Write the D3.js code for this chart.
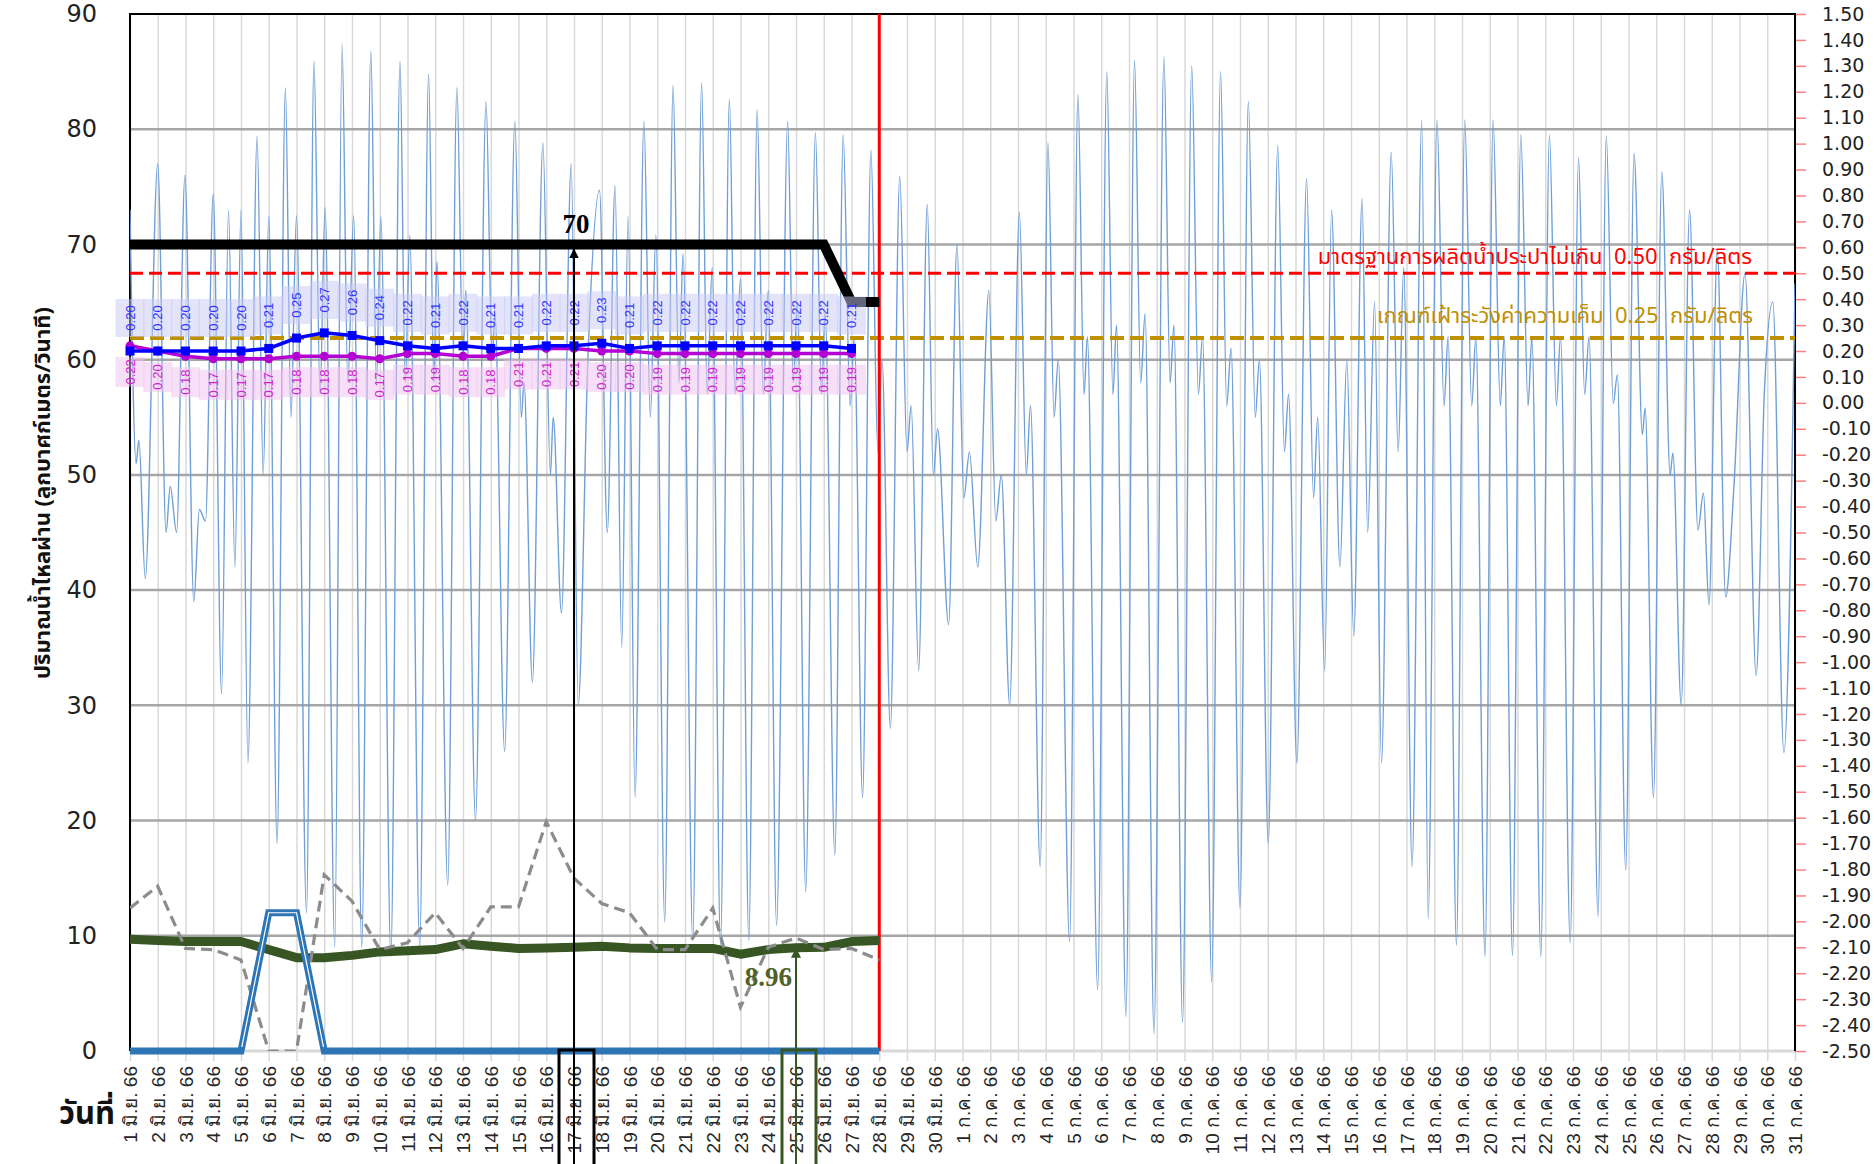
<!DOCTYPE html>
<html>
<head>
<meta charset="utf-8">
<script src="https://cdn.jsdelivr.net/npm/d3@7/dist/d3.min.js"></script>
<style>
body { margin: 0; background: #fff; }
svg { display: block; font-family: 'Noto Sans Thai', Tahoma, 'DejaVu Sans', sans-serif; }
</style>
</head>
<body>
<svg id="chart" width="1874" height="1164"></svg>
<script>
const dayLabels = [
	'1 มิ.ย. 66','2 มิ.ย. 66','3 มิ.ย. 66','4 มิ.ย. 66','5 มิ.ย. 66','6 มิ.ย. 66','7 มิ.ย. 66','8 มิ.ย. 66','9 มิ.ย. 66','10 มิ.ย. 66',
	'11 มิ.ย. 66','12 มิ.ย. 66','13 มิ.ย. 66','14 มิ.ย. 66','15 มิ.ย. 66','16 มิ.ย. 66','17 มิ.ย. 66','18 มิ.ย. 66','19 มิ.ย. 66','20 มิ.ย. 66',
	'21 มิ.ย. 66','22 มิ.ย. 66','23 มิ.ย. 66','24 มิ.ย. 66','25 มิ.ย. 66','26 มิ.ย. 66','27 มิ.ย. 66','28 มิ.ย. 66','29 มิ.ย. 66','30 มิ.ย. 66',
	'1 ก.ค. 66','2 ก.ค. 66','3 ก.ค. 66','4 ก.ค. 66','5 ก.ค. 66','6 ก.ค. 66','7 ก.ค. 66','8 ก.ค. 66','9 ก.ค. 66','10 ก.ค. 66',
	'11 ก.ค. 66','12 ก.ค. 66','13 ก.ค. 66','14 ก.ค. 66','15 ก.ค. 66','16 ก.ค. 66','17 ก.ค. 66','18 ก.ค. 66','19 ก.ค. 66','20 ก.ค. 66',
	'21 ก.ค. 66','22 ก.ค. 66','23 ก.ค. 66','24 ก.ค. 66','25 ก.ค. 66','26 ก.ค. 66','27 ก.ค. 66','28 ก.ค. 66','29 ก.ค. 66','30 ก.ค. 66',
	'31 ก.ค. 66'
]

// left axis series (ลบ.ม./วินาที), one value per day from 1 มิ.ย.
const limitFlow = [70,70,70,70,70,70,70,70,70,70,70,70,70,70,70,70,70,70,70,70,70,70,70,70,70,70,65,65]
const greenFlow = [9.7,9.6,9.5,9.5,9.5,8.8,8.1,8.1,8.3,8.6,8.7,8.8,9.3,9.1,8.9,8.95,9.0,9.1,8.95,8.9,8.9,8.9,8.4,8.8,8.96,9.0,9.5,9.6]
const greyFlow = [12.4,14.3,8.9,8.8,7.9,0,0,15.3,13.0,8.8,9.4,12.0,8.9,12.5,12.5,19.9,15.0,12.8,12.0,8.8,8.8,12.4,3.8,9.0,9.8,8.8,8.9,7.9]
const pumpFlow = [0,0,0,0,0,12,12,0,0,0,0,0,0,0,0,0,0,0,0,0,0,0,0,0,0,0,0,0]

// right axis series (กรัม/ลิตร)
const salinityTop = [0.20,0.20,0.20,0.20,0.20,0.21,0.25,0.27,0.26,0.24,0.22,0.21,0.22,0.21,0.21,0.22,0.22,0.23,0.21,0.22,0.22,0.22,0.22,0.22,0.22,0.22,0.21]
const salinityBottom = [0.22,0.20,0.18,0.17,0.17,0.17,0.18,0.18,0.18,0.17,0.19,0.19,0.18,0.18,0.21,0.21,0.21,0.20,0.20,0.19,0.19,0.19,0.19,0.19,0.19,0.19,0.19]

// tidal flow: turning points (day from 1 มิ.ย., value)
const waveDay = [
	0.0,0.22,0.32,0.55,1.0,1.3,1.45,1.68,1.98,2.3,2.5,2.72,3.0,3.3,3.55,3.78,4.0,4.25,4.58,4.8,5.0,5.3,5.6,5.8,6.0,6.36,6.63,6.85,7.03,7.38,
	7.64,7.85,8.06,8.35,8.68,8.88,9.04,9.4,9.73,9.92,10.08,10.44,10.76,10.95,11.06,11.45,11.78,12.0,12.1,12.45,12.83,13.05,13.15,13.5,13.87,14.1,14.2,14.5,14.88,15.15,
	15.25,15.55,15.9,16.15,16.5,16.92,17.2,17.48,17.72,17.95,18.2,18.52,18.75,18.95,19.27,19.57,19.78,19.93,20.28,20.6,20.8,20.98,21.28,21.6,21.8,22.0,22.3,22.6,22.82,23.0,
	23.3,23.7,23.9,24.05,24.35,24.7,24.92,25.05,25.4,25.7,25.95,26.1,26.4,26.7,26.95,27.1,27.4,27.74,28.0,28.15,28.42,28.73,28.95,29.1,29.5,29.8,30.05,30.25,30.55,30.95,
	31.2,31.4,31.7,32.05,32.3,32.45,32.8,33.08,33.3,33.45,33.86,34.16,34.38,34.5,34.87,35.2,35.42,35.55,35.89,36.2,36.42,36.58,36.9,37.26,37.48,37.62,37.93,38.26,38.5,38.65,
	38.98,39.3,39.52,39.68,40.0,40.3,40.55,40.7,41.02,41.36,41.6,41.75,42.05,42.4,42.65,42.8,43.05,43.3,43.6,43.85,44.1,44.4,44.6,44.85,45.1,45.45,45.7,45.9,46.2,46.55,
	46.78,47.1,47.35,47.5,47.8,48.1,48.35,48.5,48.83,49.12,49.38,49.52,49.82,50.12,50.38,50.52,50.84,51.15,51.4,51.55,51.9,52.2,52.42,52.58,52.9,53.2,53.45,53.6,53.9,54.2,
	54.5,54.6,54.9,55.2,55.5,55.6,55.9,56.2,56.5,56.7,56.9,57.2,57.5,57.8,58.2,58.6,58.9,59.2,59.6,60.0
]
const waveFlow = [
	73,51,53,41,77,45,49,45,76,39,47,46,74.4,31,73,42,73,25,79.4,50,72.4,18,83.6,55,72.5,12,85.9,57,73.2,9,
	87.4,58,72.5,9,86.8,58,72.4,8.2,85.9,58,70.8,9,84.8,58,68.5,14.4,83.6,60,66,20,82.4,60,64,26,80.7,55,58,32,78.8,50,
	55,38,77,30,60,74.7,45,75.1,35,72.5,22,80.7,55,70.8,11.2,83.8,58,69.2,9.6,84,57,68,9.2,82.6,57,67,9.6,81.7,57,66,
	10.9,80.7,58,65,13.8,79.7,57,64,17,79.5,56,62,22,78.2,52,60,28,75.9,52,56,33,73.5,50,54,37,70,48,52,42,66,
	46,50,30,72.8,50,56,16,78.8,55,60,9.5,83,57,62,5.3,85,57,63,3.0,86,58,64,1.5,86.3,58,63,2.5,85.5,57,62,
	6,85,56,61,12.4,82.4,55,60,18,78.6,52,57,25,75.7,48,55,33,73,42,60,36,74,45,65,25,78,52,68,16,80.8,
	11.5,80.8,56,62,9.2,80.8,56,62,8.2,80.8,56,62,8.3,79.5,56,62,8.2,79.5,56,62,9.4,77.5,57,62,11.7,79.4,56.2,58.7,15.7,77.9,
	53.5,55.8,22,76.3,50,51.9,30,73,45.2,48.4,38.7,69.5,39.4,49,67.5,32.6,57.4,65,25.9,66.6
]

const margin = { left: 130, right: 1795, top: 14, bottom: 1051 }
const svg = d3.select('#chart')

const x = d3.scalePoint().domain(d3.range(dayLabels.length)).range([margin.left, margin.right])
const xDay = d3.scaleLinear().domain([0, dayLabels.length - 1]).range([margin.left, margin.right])
const yLeft = d3.scaleLinear().domain([0, 90]).range([margin.bottom, margin.top])
const yRight = d3.scaleLinear().domain([-2.5, 1.5]).range([margin.bottom, margin.top])

const defs = svg.append('defs')
defs.append('clipPath').attr('id', 'plot')
	.append('rect')
	.attr('x', margin.left).attr('y', margin.top)
	.attr('width', margin.right - margin.left).attr('height', margin.bottom - margin.top)
defs.append('clipPath').attr('id', 'inner')
	.append('rect')
	.attr('x', margin.left).attr('y', margin.top)
	.attr('width', margin.right - margin.left).attr('height', margin.bottom - margin.top - 4)

// vertical grid + bottom axis
const xAxis = svg.append('g')
	.attr('transform', `translate(0,${margin.bottom})`)
	.call(d3.axisBottom(x).tickSize(10).tickFormat(i => dayLabels[i]))
xAxis.select('.domain').remove()
xAxis.selectAll('.tick line').attr('stroke', '#d9d9d9').attr('stroke-width', 1.5)
	.attr('y1', margin.top - margin.bottom)
xAxis.selectAll('.tick text')
	.attr('transform', 'rotate(-90)')
	.attr('text-anchor', 'end')
	.attr('x', -15).attr('y', 0).attr('dy', '0.35em')
	.style('font-size', '19px').attr('fill', '#262626')

// horizontal grid
svg.append('g').selectAll('line')
	.data(d3.range(10, 90, 10))
	.join('line')
	.attr('x1', margin.left).attr('x2', margin.right)
	.attr('y1', d => yLeft(d)).attr('y2', d => yLeft(d))
	.attr('stroke', '#a6a6a6').attr('stroke-width', 2.5)
svg.append('line')
	.attr('x1', margin.left).attr('x2', margin.right)
	.attr('y1', yLeft(0)).attr('y2', yLeft(0))
	.attr('stroke', '#d9d9d9').attr('stroke-width', 3)

// left axis
const yAxisL = svg.append('g')
	.attr('transform', `translate(${margin.left},0)`)
	.call(d3.axisLeft(yLeft).tickValues(d3.range(0, 91, 10)).tickSize(0).tickPadding(33))
yAxisL.select('.domain').remove()
yAxisL.selectAll('text').style('font-size', '24px').style('font-family', "'DejaVu Sans', sans-serif").attr('fill', '#222')

// right axis
const fmt = d3.format('.2f')
const yAxisR = svg.append('g')
	.attr('transform', `translate(${margin.right},0)`)
	.call(d3.axisRight(yRight).tickValues(d3.range(-25, 16).map(v => v / 10)).tickSize(11).tickPadding(16)
		.tickFormat(d => fmt(d).replace('−', '-')))
yAxisR.select('.domain').remove()
yAxisR.selectAll('.tick line').attr('stroke', '#ff8080').attr('stroke-width', 1.5)
yAxisR.selectAll('text').style('font-size', '19px').style('font-family', "'DejaVu Sans', sans-serif").attr('fill', '#222')

// frame
svg.append('path')
	.attr('d', `M${margin.left},${margin.bottom}V${margin.top}H${margin.right}V${margin.bottom}`)
	.attr('fill', 'none').attr('stroke', '#000').attr('stroke-width', 2)

const plot = svg.append('g').attr('clip-path', 'url(#plot)')

// tidal flow
plot.append('path')
	.datum(waveDay.map((d, i) => [d, waveFlow[i]]))
	.attr('d', d3.line().x(d => xDay(d[0])).y(d => yLeft(d[1])).curve(d3.curveMonotoneX))
	.attr('fill', 'none').attr('stroke', '#6f9fd6').attr('stroke-width', 1.4)

// threshold lines
plot.append('line')
	.attr('x1', margin.left).attr('x2', margin.right)
	.attr('y1', yRight(0.5)).attr('y2', yRight(0.5))
	.attr('stroke', '#ff0000').attr('stroke-width', 3).attr('stroke-dasharray', '13,6')
plot.append('line')
	.attr('x1', margin.left).attr('x2', margin.right)
	.attr('y1', yRight(0.25)).attr('y2', yRight(0.25))
	.attr('stroke', '#bf9000').attr('stroke-width', 4).attr('stroke-dasharray', '14,6')

svg.append('text')
	.attr('x', 1752).attr('y', 264).attr('text-anchor', 'end')
	.style('font-size', '22px').attr('fill', '#ff0000').style('white-space', 'pre')
	.text('มาตรฐานการผลิตน้ำประปาไม่เกิน  0.50  กรัม/ลิตร')
svg.append('text')
	.attr('x', 1753).attr('y', 323).attr('text-anchor', 'end')
	.style('font-size', '22px').attr('fill', '#bf9000').style('white-space', 'pre')
	.text('เกณฑ์เฝ้าระวังค่าความเค็ม  0.25  กรัม/ลิตร')

// red marker for today
plot.append('line')
	.attr('x1', x(27)).attr('x2', x(27))
	.attr('y1', margin.top).attr('y2', margin.bottom)
	.attr('stroke', '#ff0000').attr('stroke-width', 3)

const lineL = d3.line().x((d, i) => x(i)).y(d => yLeft(d))

plot.append('path').datum(limitFlow).attr('d', lineL)
	.attr('fill', 'none').attr('stroke', '#000').attr('stroke-width', 10)
plot.append('path').datum(greenFlow).attr('d', lineL)
	.attr('fill', 'none').attr('stroke', '#375623').attr('stroke-width', 9).attr('stroke-linejoin', 'round')
plot.append('path').datum(greyFlow).attr('d', lineL)
	.attr('fill', 'none').attr('stroke', '#8c8c8c').attr('stroke-width', 3.2).attr('stroke-dasharray', '11,6')
svg.append('path').datum(pumpFlow).attr('d', lineL)
	.attr('fill', 'none').attr('stroke', '#2e75b6').attr('stroke-width', 7)
svg.append('g').attr('clip-path', 'url(#inner)')
	.append('path').datum(pumpFlow).attr('d', lineL)
	.attr('fill', 'none').attr('stroke', '#fff').attr('stroke-width', 1.2)

// salinity series with labels
const lineR = d3.line().x((d, i) => x(i)).y(d => yRight(d))

const topLabels = svg.append('g')
topLabels.selectAll('rect').data(salinityTop).join('rect')
	.attr('x', (d, i) => x(i) - 14.5).attr('y', d => yRight(d) - 52)
	.attr('width', 29).attr('height', 38)
	.attr('fill', '#c8c8f5').attr('fill-opacity', 0.5)
const bottomLabels = svg.append('g')
bottomLabels.selectAll('rect').data(salinityBottom).join('rect')
	.attr('x', (d, i) => x(i) - 14.5).attr('y', d => yRight(d) + 11)
	.attr('width', 29).attr('height', 30)
	.attr('fill', '#f0c0f0').attr('fill-opacity', 0.5)

svg.append('path').datum(salinityBottom).attr('d', lineR)
	.attr('fill', 'none').attr('stroke', '#b400d2').attr('stroke-width', 3.5)
svg.append('g').selectAll('circle').data(salinityBottom).join('circle')
	.attr('cx', (d, i) => x(i)).attr('cy', d => yRight(d)).attr('r', 4.5)
	.attr('fill', '#b400d2')
svg.append('path').datum(salinityTop).attr('d', lineR)
	.attr('fill', 'none').attr('stroke', '#0000ff').attr('stroke-width', 3.5)
svg.append('g').selectAll('rect').data(salinityTop).join('rect')
	.attr('x', (d, i) => x(i) - 4.5).attr('y', d => yRight(d) - 4.5)
	.attr('width', 9).attr('height', 9).attr('fill', '#0000ff')

topLabels.selectAll('text').data(salinityTop).join('text')
	.attr('transform', (d, i) => `translate(${x(i)},${yRight(d) - 33}) rotate(-90)`)
	.attr('text-anchor', 'middle').attr('dy', '0.35em')
	.style('font-family', "'Liberation Sans', Arial, sans-serif").style('font-size', '13px')
	.attr('fill', '#3333ff')
	.text(d => d.toFixed(2))
bottomLabels.selectAll('text').data(salinityBottom).join('text')
	.attr('transform', (d, i) => `translate(${x(i)},${yRight(d) + 26}) rotate(-90)`)
	.attr('text-anchor', 'middle').attr('dy', '0.35em')
	.style('font-family', "'Liberation Sans', Arial, sans-serif").style('font-size', '13px')
	.attr('fill', '#d11fd1')
	.text(d => d.toFixed(2))

// annotations
const arrowHead = (id, color) => defs.append('marker')
	.attr('id', id).attr('viewBox', '0 0 10 10').attr('refX', 10).attr('refY', 5)
	.attr('markerWidth', 5).attr('markerHeight', 5).attr('orient', 'auto')
	.append('path').attr('d', 'M0,0L10,5L0,10Z').attr('fill', color)
arrowHead('arrowBlack', '#000')
arrowHead('arrowGreen', '#375623')

const limitDay = 16, greenDay = 24
svg.append('line')
	.attr('x1', x(limitDay)).attr('x2', x(limitDay)).attr('y1', 1164).attr('y2', yLeft(limitFlow[limitDay]) + 4)
	.attr('stroke', '#000').attr('stroke-width', 2).attr('marker-end', 'url(#arrowBlack)')
svg.append('line')
	.attr('x1', x(greenDay)).attr('x2', x(greenDay)).attr('y1', 1164).attr('y2', yLeft(greenFlow[greenDay]))
	.attr('stroke', '#375623').attr('stroke-width', 2).attr('marker-end', 'url(#arrowGreen)')
svg.append('rect')
	.attr('x', x(limitDay) - 15).attr('y', margin.bottom - 1).attr('width', 35).attr('height', 130)
	.attr('fill', 'none').attr('stroke', '#000').attr('stroke-width', 3)
svg.append('rect')
	.attr('x', x(greenDay) - 14).attr('y', margin.bottom - 1).attr('width', 34).attr('height', 130)
	.attr('fill', 'none').attr('stroke', '#375623').attr('stroke-width', 3)

svg.append('text')
	.attr('x', x(limitDay) + 2).attr('y', 233).attr('text-anchor', 'middle')
	.style('font-family', "'Liberation Serif', 'Times New Roman', serif").style('font-size', '27px').style('font-weight', 'bold')
	.text(limitFlow[limitDay])
svg.append('text')
	.attr('x', x(greenDay) - 4).attr('y', 986).attr('text-anchor', 'end')
	.style('font-family', "'Liberation Serif', 'Times New Roman', serif").style('font-size', '27px').style('font-weight', 'bold')
	.attr('fill', '#4f6228')
	.text(greenFlow[greenDay].toFixed(2))

// titles
svg.append('text')
	.attr('transform', 'translate(42,493) rotate(-90)')
	.attr('text-anchor', 'middle').attr('dy', '0.35em')
	.style('font-size', '22px').style('font-weight', 'bold').attr('fill', '#111')
	.text('ปริมาณน้ำไหลผ่าน (ลูกบาศก์เมตร/วินาที)')
svg.append('text')
	.attr('x', 87).attr('y', 1124).attr('text-anchor', 'middle')
	.style('font-size', '31px').style('font-weight', 'bold').attr('fill', '#111')
	.text('วันที่')
</script>
</body>
</html>
